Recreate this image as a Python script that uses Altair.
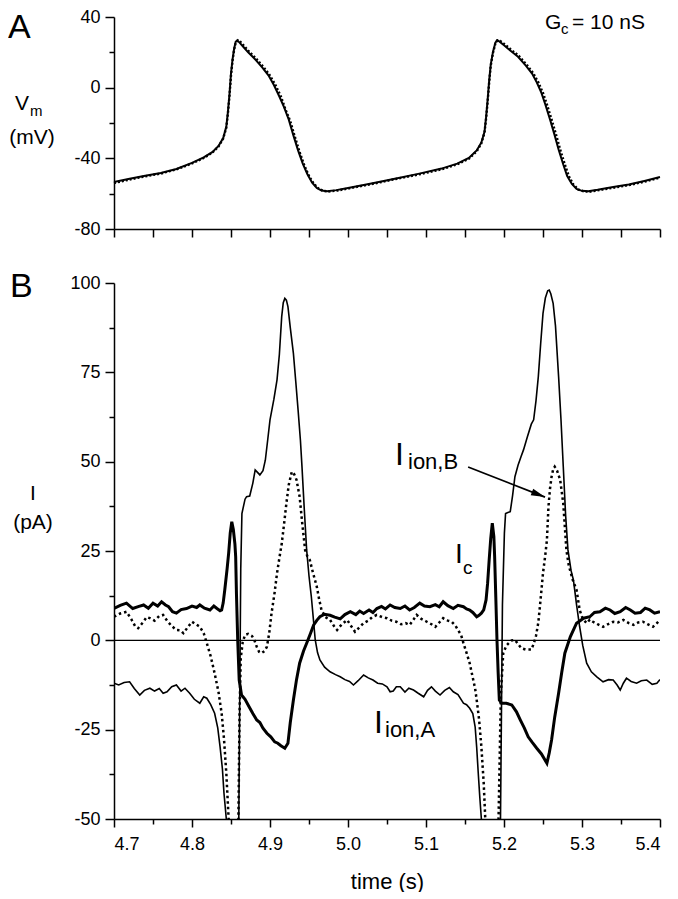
import altair as alt
import pandas as pd

FONT = "Liberation Sans"

# ---------------- data: panel A (membrane potential, mV) ----------------
vm_time = [4.700, 4.720, 4.740, 4.760, 4.780, 4.800, 4.815, 4.826, 4.834, 4.840, 4.844, 4.846,
           4.848, 4.850, 4.852, 4.854, 4.856, 4.858, 4.861, 4.866, 4.872, 4.880, 4.890, 4.898,
           4.905, 4.912, 4.918, 4.924, 4.930, 4.936, 4.942, 4.948, 4.954, 4.960, 4.966, 4.973,
           4.985, 5.000, 5.030, 5.060, 5.090, 5.120, 5.140, 5.155, 5.165, 5.171, 5.175, 5.177,
           5.179, 5.181, 5.183, 5.186, 5.189, 5.191, 5.194, 5.200, 5.208, 5.218, 5.228, 5.236,
           5.242, 5.248, 5.253, 5.259, 5.265, 5.270, 5.276, 5.281, 5.287, 5.293, 5.300, 5.308,
           5.320, 5.340, 5.360, 5.380, 5.400]
vm_solid = [-53.4, -51.5, -49.8, -48.3, -46.0, -42.6, -39.5, -36.5, -33.0, -28.5, -22.0, -14.0,
            -4.0, 8.0, 16.0, 22.0, 26.0, 26.8, 25.5, 23.0, 20.0, 16.5, 11.5, 7.0,
            1.5, -5.0, -11.0, -18.0, -27.0, -35.5, -43.0, -49.0, -53.8, -56.8, -58.2, -58.6,
            -58.0, -56.8, -54.3, -51.5, -48.8, -45.8, -43.0, -39.8, -35.5, -31.0, -25.0, -17.0,
            -7.0, 4.0, 13.0, 20.5, 25.5, 26.8, 26.2, 24.0, 21.0, 17.5, 12.5, 8.0,
            3.0, -3.0, -9.5, -18.0, -27.0, -35.0, -43.5, -50.0, -54.5, -57.3, -58.4, -58.6,
            -57.8, -56.2, -54.8, -52.8, -50.6]

vm_dot_time = [4.700, 4.720, 4.740, 4.760, 4.780, 4.800, 4.815, 4.826, 4.834, 4.840, 4.844, 4.846,
               4.848, 4.850, 4.852, 4.854, 4.856, 4.859, 4.862, 4.867, 4.873, 4.881, 4.891, 4.899,
               4.907, 4.914, 4.920, 4.926, 4.932, 4.938, 4.944, 4.950, 4.956, 4.962, 4.968, 4.975,
               4.987, 5.000, 5.030, 5.060, 5.090, 5.120, 5.140, 5.155, 5.165, 5.171, 5.175, 5.177,
               5.179, 5.181, 5.183, 5.186, 5.189, 5.192, 5.195, 5.201, 5.209, 5.219, 5.229, 5.237,
               5.244, 5.250, 5.255, 5.261, 5.267, 5.272, 5.278, 5.283, 5.289, 5.295, 5.302, 5.310,
               5.322, 5.342, 5.362, 5.382, 5.400]
vm_dotted = [-54.0, -52.0, -50.2, -48.6, -46.3, -42.9, -39.8, -36.8, -33.3, -28.8, -22.5, -14.8,
             -5.0, 7.0, 15.5, 21.5, 25.5, 26.8, 26.0, 23.5, 20.5, 17.0, 12.0, 7.5,
             1.5, -5.0, -12.5, -19.0, -28.0, -36.5, -44.0, -50.0, -54.3, -57.0, -58.4, -58.8,
             -58.2, -57.1, -54.6, -51.8, -49.2, -46.2, -43.4, -40.2, -36.0, -31.5, -25.5, -17.5,
             -8.0, 3.0, 12.5, 20.0, 25.0, 26.8, 26.5, 24.5, 21.5, 18.0, 13.0, 8.5,
             3.0, -3.0, -9.5, -18.0, -27.0, -35.0, -43.5, -50.0, -54.8, -57.6, -58.7, -58.9,
             -58.0, -56.5, -55.0, -53.0, -50.9]

# ---------------- data: panel B (currents, pA) ----------------
ic_time = [4.700, 4.708, 4.716, 4.724, 4.732, 4.738, 4.744, 4.750, 4.756, 4.761, 4.766, 4.770,
           4.775, 4.780, 4.786, 4.793, 4.800, 4.806, 4.810, 4.816, 4.823, 4.828, 4.832, 4.836,
           4.838, 4.840, 4.842, 4.845, 4.847, 4.849, 4.851, 4.853, 4.855, 4.856, 4.857, 4.8586,
           4.8605, 4.8635, 4.868, 4.873, 4.878, 4.883, 4.887, 4.891, 4.896, 4.901, 4.906, 4.910,
           4.914, 4.919, 4.923, 4.926, 4.930, 4.934, 4.938, 4.943, 4.947, 4.952, 4.956, 4.960,
           4.964, 4.970, 4.977, 4.983, 4.990, 4.996, 5.003, 5.010, 5.015, 5.020, 5.027, 5.032,
           5.037, 5.043, 5.048, 5.054, 5.060, 5.067, 5.073, 5.079, 5.085, 5.092, 5.098, 5.105,
           5.112, 5.117, 5.122, 5.128, 5.135, 5.141, 5.148, 5.152, 5.156, 5.160, 5.165, 5.168,
           5.171, 5.174, 5.177, 5.179, 5.181, 5.183, 5.185, 5.187, 5.188, 5.1895, 5.191, 5.1925,
           5.194, 5.197, 5.203, 5.210, 5.216, 5.221, 5.226, 5.231, 5.236, 5.242, 5.248, 5.255,
           5.258, 5.261, 5.265, 5.270, 5.274, 5.278, 5.285, 5.293, 5.302, 5.310, 5.316, 5.323,
           5.330, 5.336, 5.342, 5.349, 5.356, 5.362, 5.368, 5.375, 5.381, 5.387, 5.393, 5.400]
ic_values = [8.9, 9.8, 10.4, 8.9, 9.5, 9.9, 9.0, 10.4, 9.6, 10.8, 9.9, 9.4,
             8.0, 7.6, 8.6, 8.9, 9.6, 9.2, 9.9, 9.0, 8.5, 9.6, 8.9, 8.3,
             8.5, 10.5, 14.1, 20.0, 24.4, 30.0, 33.2, 31.0, 27.0, 23.4, 13.0, 0.1,
             -11.1, -15.3, -16.5, -18.5, -20.5, -22.3, -23.0, -24.6, -26.0, -27.0, -28.4, -28.8,
             -29.5, -30.2, -28.8, -23.0, -16.7, -11.0, -6.4, -3.0, -0.8, 2.0, 4.3, 5.6,
             6.6, 7.3, 7.0, 6.5, 6.0, 7.2, 8.0, 7.2, 8.2, 7.5, 8.5, 7.8,
             8.9, 9.5, 8.8, 9.9, 9.2, 8.9, 9.6, 8.5, 9.2, 10.4, 9.6, 9.4,
             10.0, 9.4, 10.8, 9.7, 8.9, 9.8, 9.4, 8.8, 8.5, 7.8, 6.6, 7.0,
             7.6, 8.5, 11.3, 16.0, 22.5, 28.5, 32.8, 29.0, 23.4, 12.0, 0.1, -9.0,
             -16.7, -17.6, -17.6, -18.1, -20.0, -22.3, -24.5, -27.0, -28.5, -30.2, -31.8, -34.4,
             -31.5, -27.9, -21.5, -14.8, -9.0, -3.6, 1.0, 4.8, 6.2, 6.6, 7.8, 8.0,
             9.0, 8.5, 7.5, 8.0, 9.2, 8.5, 7.6, 7.8, 9.0, 8.5, 7.6, 8.0]

ia_time = [4.700, 4.706, 4.713, 4.720, 4.726, 4.733, 4.739, 4.746, 4.752, 4.758, 4.763, 4.768,
           4.774, 4.780, 4.786, 4.791, 4.797, 4.803, 4.810, 4.815, 4.819, 4.824, 4.829, 4.833,
           4.836, 4.839, 4.841, 4.844, 4.849, 4.857, 4.860, 4.8625, 4.864, 4.868, 4.870, 4.874,
           4.878, 4.881, 4.884, 4.887, 4.891, 4.894, 4.897, 4.900, 4.905, 4.909, 4.912, 4.915,
           4.917, 4.919, 4.921, 4.923, 4.926, 4.930, 4.933, 4.936, 4.939, 4.941, 4.944, 4.947,
           4.950, 4.953, 4.956, 4.958, 4.961, 4.964, 4.970, 4.977, 4.984, 4.990, 4.996, 5.002,
           5.007, 5.013, 5.020, 5.026, 5.032, 5.038, 5.044, 5.050, 5.054, 5.058, 5.062, 5.067,
           5.073, 5.078, 5.084, 5.090, 5.097, 5.102, 5.107, 5.112, 5.118, 5.124, 5.130, 5.135,
           5.141, 5.148, 5.152, 5.156, 5.160, 5.163, 5.165, 5.167, 5.169, 5.171, 5.175, 5.192,
           5.1955, 5.198, 5.2005, 5.202, 5.205, 5.208, 5.211, 5.214, 5.218, 5.222, 5.225, 5.230,
           5.235, 5.238, 5.241, 5.244, 5.247, 5.250, 5.253, 5.256, 5.258, 5.260, 5.263, 5.266,
           5.270, 5.273, 5.276, 5.279, 5.282, 5.286, 5.289, 5.293, 5.297, 5.301, 5.306, 5.312,
           5.319, 5.327, 5.334, 5.340, 5.345, 5.349, 5.353, 5.357, 5.363, 5.370, 5.376, 5.383,
           5.390, 5.396, 5.400]
ia_values = [-12.0, -12.5, -11.8, -11.6, -13.5, -15.3, -14.0, -13.4, -14.2, -13.5, -14.8, -14.4,
             -13.0, -12.5, -14.2, -13.4, -14.8, -16.5, -17.6, -15.8, -16.2, -18.0, -20.4, -24.5,
             -29.8, -36.0, -42.8, -50.0, -90.0, -90.0, -50.0, 20.0, 35.5, 39.5, 40.2, 40.4,
             44.0, 47.7, 47.0, 46.3, 47.5, 50.4, 56.0, 61.7, 67.5, 72.9, 80.0, 90.6,
             94.5, 95.7, 95.2, 93.4, 87.5, 80.3, 72.5, 64.5, 56.0, 48.6, 36.5, 25.3,
             18.0, 12.2, 5.0, 0.1, -3.5, -5.5, -7.5, -8.8, -9.6, -10.2, -11.0, -11.5,
             -12.5, -11.3, -9.7, -10.5, -11.1, -12.0, -12.2, -13.0, -14.4, -14.2, -13.0, -13.0,
             -14.5, -13.4, -13.9, -14.8, -15.8, -14.0, -13.0, -14.2, -15.3, -14.0, -13.2, -14.4,
             -15.2, -17.6, -18.0, -19.0, -20.5, -24.2, -30.0, -37.2, -44.0, -50.0, -90.0, -90.0,
             -50.0, 10.0, 30.0, 35.5, 35.8, 36.0, 40.5, 45.8, 49.0, 51.5, 53.3, 57.0,
             60.5, 61.7, 67.0, 73.8, 83.0, 91.5, 95.8, 97.8, 98.0, 97.0, 94.3, 88.0,
             73.8, 62.0, 48.6, 35.0, 25.3, 19.5, 16.9, 10.0, 3.8, -1.5, -6.4, -8.8,
             -10.2, -11.6, -11.0, -11.1, -12.5, -13.9, -12.0, -10.6, -11.5, -12.0, -11.3, -11.1,
             -12.3, -12.0, -11.0]

ib_time = [4.700, 4.708, 4.716, 4.722, 4.727, 4.731, 4.737, 4.742, 4.746, 4.752, 4.758, 4.763,
           4.768, 4.774, 4.780, 4.785, 4.789, 4.794, 4.800, 4.805, 4.810, 4.815, 4.819, 4.824,
           4.829, 4.834, 4.838, 4.841, 4.844, 4.847, 4.850, 4.857, 4.8595, 4.861, 4.8625, 4.865,
           4.868, 4.872, 4.877, 4.880, 4.883, 4.886, 4.889, 4.893, 4.896, 4.899, 4.902, 4.906,
           4.909, 4.912, 4.915, 4.918, 4.921, 4.924, 4.928, 4.931, 4.934, 4.938, 4.941, 4.945,
           4.948, 4.951, 4.955, 4.960, 4.963, 4.966, 4.971, 4.977, 4.982, 4.986, 4.992, 4.999,
           5.004, 5.009, 5.014, 5.020, 5.026, 5.031, 5.037, 5.044, 5.050, 5.056, 5.062, 5.068,
           5.074, 5.079, 5.084, 5.088, 5.094, 5.101, 5.107, 5.112, 5.117, 5.122, 5.128, 5.133,
           5.138, 5.141, 5.145, 5.148, 5.152, 5.156, 5.160, 5.163, 5.165, 5.168, 5.171, 5.174,
           5.176, 5.180, 5.190, 5.193, 5.196, 5.199, 5.203, 5.206, 5.210, 5.214, 5.218, 5.222,
           5.228, 5.235, 5.238, 5.241, 5.244, 5.246, 5.248, 5.250, 5.253, 5.255, 5.257, 5.259,
           5.261, 5.263, 5.265, 5.268, 5.272, 5.276, 5.280, 5.283, 5.288, 5.293, 5.297, 5.301,
           5.306, 5.310, 5.314, 5.320, 5.327, 5.333, 5.340, 5.346, 5.353, 5.360, 5.366, 5.372,
           5.378, 5.384, 5.391, 5.396, 5.400]
ib_values = [6.6, 7.5, 8.0, 6.0, 4.0, 3.4, 5.0, 6.5, 6.2, 5.5, 6.8, 7.1,
             5.5, 4.0, 2.9, 2.8, 2.0, 3.5, 5.2, 4.5, 3.8, 2.0, -0.8, -4.5,
             -9.2, -14.5, -20.4, -27.5, -37.2, -50.0, -90.0, -90.0, -50.0, -20.0, -5.0, -0.5,
             1.5, 1.8, 1.2, 0.0, -1.8, -3.2, -3.6, -3.0, -1.8, 2.0, 7.6, 13.5,
             18.8, 23.0, 27.0, 32.5, 38.3, 43.5, 47.2, 46.5, 44.9, 40.2, 33.5, 25.3,
             23.5, 22.5, 19.0, 15.0, 11.5, 8.5, 6.5, 5.7, 4.0, 2.9, 4.5, 5.7,
             4.0, 2.4, 3.5, 4.8, 5.5, 6.5, 7.1, 6.5, 6.2, 5.5, 5.2, 4.5,
             4.8, 4.3, 5.8, 7.1, 6.0, 5.2, 4.5, 3.8, 5.0, 6.2, 5.5, 5.2,
             4.0, 2.9, 1.5, -0.8, -3.5, -6.4, -10.5, -13.5, -16.7, -22.0, -29.8, -40.0,
             -50.0, -90.0, -90.0, -50.0, -15.0, -3.6, -1.5, -0.8, 0.0, 0.1, -1.0, -2.2,
             -2.6, -2.6, -1.0, 1.2, 5.0, 9.4, 14.0, 18.8, 24.0, 28.0, 37.4, 42.5,
             45.8, 47.8, 48.6, 47.5, 44.9, 38.3, 25.3, 21.0, 17.0, 14.1, 8.5, 6.0,
             4.8, 5.8, 5.2, 4.5, 3.8, 4.5, 5.2, 5.0, 5.7, 4.8, 4.3, 5.0,
             5.2, 4.5, 3.8, 4.8, 5.7]

zero_level = [0]
arrow_from_t = [5.154]
arrow_from_i = [48.5]
arrow_to_t = [5.2526]
arrow_to_i = [40.1]

# ---------------- axis tick values ----------------
x_major = [4.7, 4.8, 4.9, 5.0, 5.1, 5.2, 5.3, 5.4]
x_minor = [4.75, 4.85, 4.95, 5.05, 5.15, 5.25, 5.35]
x_top_ticks = sorted(x_major + x_minor)
vm_major = [-80, -40, 0, 40]
vm_minor = [-60, -20, 20]
i_major = [-50, -25, 0, 25, 50, 75, 100]
i_minor = [-37.5, -12.5, 12.5, 37.5, 62.5, 87.5]

W = 546
H_TOP = 212
H_BOT = 536

xs = alt.Scale(domain=[4.7, 5.4], nice=False, zero=False)
ys_top = alt.Scale(domain=[-80, 40], nice=False, zero=False)
ys_bot = alt.Scale(domain=[-50, 100], nice=False, zero=False)

AX = dict(domainColor="black", domainWidth=1.5, tickColor="black", tickWidth=1.5,
          grid=False, labelFont=FONT, labelFontSize=18, labelColor="black")


def label(txt, x, y, size, align="left"):
    return alt.Chart(pd.DataFrame({"k": [0]})).mark_text(
        text=txt, font=FONT, fontSize=size, align=align, baseline="alphabetic", color="black"
    ).encode(x=alt.value(x), y=alt.value(y))


# ---------------- panel A ----------------
df_vm = pd.DataFrame({"t": vm_time, "v": vm_solid})
df_vmd = pd.DataFrame({"t": vm_dot_time, "v": vm_dotted})

vm_dot_layer = alt.Chart(df_vmd).mark_line(color="black", strokeWidth=2.4, strokeDash=[2, 2]).encode(
    x=alt.X("t:Q", scale=xs, axis=None),
    y=alt.Y("v:Q", scale=ys_top, axis=alt.Axis(values=vm_minor, tickSize=5, labels=False,
                                                 domain=False, orient="left", title=None, **AX)),
)
vm_layer = alt.Chart(df_vm).mark_line(color="black", strokeWidth=2).encode(
    x=alt.X("t:Q", scale=xs, axis=alt.Axis(values=x_top_ticks, tickSize=8, labels=False,
                                            orient="bottom", title=None, **AX)),
    y=alt.Y("v:Q", scale=ys_top, axis=alt.Axis(values=vm_major, tickSize=9, labelPadding=5,
                                                 labelExpr="datum.value + ''",
                                                 orient="left", title=None, **AX)),
)

top = alt.layer(
    vm_dot_layer, vm_layer,
    label("A", -106, 21, 34),
    label("V", -99, 93, 21),
    label("m", -84, 99, 15),
    label("(mV)", -82, 127, 21, align="center"),
    label("G", 431, 12, 21),
    label("c", 447, 17, 15),
    label("= 10 nS", 458, 12, 21),
).resolve_axis(x="independent", y="independent").properties(width=W, height=H_TOP)

# ---------------- panel B ----------------
df_ic = pd.DataFrame({"t": ic_time, "i": ic_values})
df_ia = pd.DataFrame({"t": ia_time, "i": ia_values})
df_ib = pd.DataFrame({"t": ib_time, "i": ib_values})
df_zero = pd.DataFrame({"z": zero_level})
df_arrow = pd.DataFrame({"t": arrow_from_t, "i": arrow_from_i, "t2": arrow_to_t, "i2": arrow_to_i})

zero_layer = alt.Chart(df_zero).mark_rule(color="black", strokeWidth=1.3).encode(
    y=alt.Y("z:Q", scale=ys_bot, axis=None)
)
ia_layer = alt.Chart(df_ia).mark_line(color="black", strokeWidth=1.6, clip=True).encode(
    x=alt.X("t:Q", scale=xs, axis=alt.Axis(values=x_major, tickSize=8, labelPadding=8,
                                            labelExpr="format(datum.value, '.1f')",
                                            orient="bottom", title="time (s)", titleFont=FONT,
                                            titleFontSize=22, titleFontWeight="normal",
                                            titleColor="black", titlePadding=18, **AX)),
    y=alt.Y("i:Q", scale=ys_bot, axis=alt.Axis(values=i_major, tickSize=9, labelPadding=5,
                                                labelExpr="datum.value + ''",
                                                orient="left", title=None, **AX)),
)
ib_layer = alt.Chart(df_ib).mark_line(color="black", strokeWidth=2.5, strokeDash=[2.5, 3], clip=True).encode(
    x=alt.X("t:Q", scale=xs, axis=alt.Axis(values=x_minor, tickSize=5, labels=False, domain=False,
                                            orient="bottom", title=None, **AX)),
    y=alt.Y("i:Q", scale=ys_bot, axis=alt.Axis(values=i_minor, tickSize=5, labels=False, domain=False,
                                                orient="left", title=None, **AX)),
)
ic_layer = alt.Chart(df_ic).mark_line(color="black", strokeWidth=3, clip=True).encode(
    x=alt.X("t:Q", scale=xs, axis=None),
    y=alt.Y("i:Q", scale=ys_bot, axis=None),
)
arrow_line = alt.Chart(df_arrow).mark_rule(color="black", strokeWidth=1.8).encode(
    x=alt.X("t:Q", scale=xs, axis=None), y=alt.Y("i:Q", scale=ys_bot, axis=None),
    x2="t2:Q", y2="i2:Q",
)
arrow_head = alt.Chart(df_arrow).mark_point(
    shape="M0,0L-1,-0.25L-1,0.25Z", size=784, angle=21, filled=True, color="black",
    opacity=1, strokeWidth=0,
).encode(x=alt.X("t2:Q", scale=xs, axis=None), y=alt.Y("i2:Q", scale=ys_bot, axis=None))

bottom = alt.layer(
    zero_layer, ia_layer, ib_layer, ic_layer, arrow_line, arrow_head,
    label("B", -104, 14, 34),
    label("I", -81, 217, 21, align="center"),
    label("(pA)", -81, 246, 21, align="center"),
    label("I", 281, 182, 32),
    label("ion,B", 294, 186, 22),
    label("I", 341, 280, 28),
    label("c", 349, 291, 19),
    label("I", 260, 450, 32),
    label("ion,A", 271, 454, 22),
).resolve_axis(x="independent", y="independent").properties(width=W, height=H_BOT)

chart = alt.vconcat(top, bottom, spacing=54, bounds="flush",
                    padding={"left": 0, "top": 0, "right": 5, "bottom": 0}).configure_view(stroke=None)

chart.save("out.html", embed_options={"renderer": "svg", "actions": False})
